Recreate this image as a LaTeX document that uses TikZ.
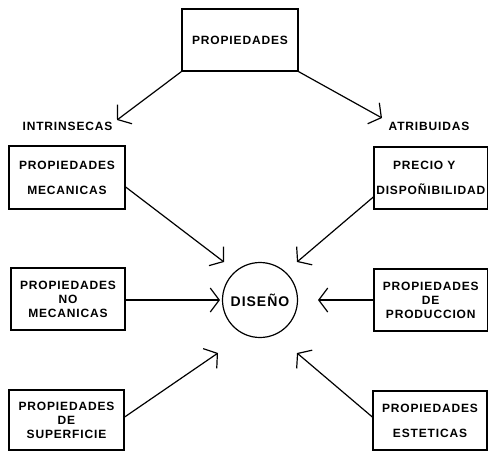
\documentclass[tikz,border=0pt]{standalone}
\usepackage{fontspec}
\setmainfont{Liberation Sans}[LetterSpace=7]
\usetikzlibrary{arrows.meta}
\tikzset{
  box/.style={draw, line width=1.3pt, rectangle, inner sep=0pt, align=center,
    font=\fontsize{12}{14}\selectfont\bfseries},
  lbl/.style={inner sep=0pt, font=\fontsize{12}{14}\selectfont\bfseries},
  conn/.style={line width=1.2pt, -{Straight Barb[length=9pt,width=24pt]}}
}
\begin{document}
\begin{tikzpicture}[x=1pt,y=-1pt]
\useasboundingbox (0,0) rectangle (488,451);
% boxes
\node[box, minimum width=116pt, minimum height=62pt] (top) at (240,40) {PROPIEDADES};
\node[box, minimum width=116pt, minimum height=63pt] (mec) at (67,177.5) {PROPIEDADES\\[11pt]MECANICAS};
\node[box, minimum width=113.5pt, minimum height=62pt] (pre) at (430.75,178) {PRECIO Y\hspace*{13pt}\\[11pt]DISPOÑIBILIDAD};
\node[box, minimum width=114pt, minimum height=62pt] (nom) at (68,299) {PROPIEDADES\\NO\\MECANICAS};
\node[box, minimum width=113.5pt, minimum height=62pt] (pro) at (430.75,300) {PROPIEDADES\\DE\\PRODUCCION};
\node[box, minimum width=115pt, minimum height=60pt] (sup) at (66.5,420) {PROPIEDADES\\DE\\SUPERFICIE};
\node[box, minimum width=114pt, minimum height=59pt] (est) at (430,420.5) {PROPIEDADES\\[11pt]ESTETICAS};
% centre
\node[draw, circle, line width=1.2pt, minimum size=75pt, inner sep=0pt,
  font=\fontsize{14}{16}\selectfont\bfseries] (dis) at (260,300) {DISEÑO};
% labels
\node[lbl] (intr) at (67.5,126) {INTRINSECAS};
\node[lbl] (atri) at (429,126) {ATRIBUIDAS};
% free ends
\coordinate (ti) at (117,120);
\coordinate (ta) at (382,118);
\coordinate (t1) at (224,262);
\coordinate (t2) at (297,262);
\coordinate (t3) at (220,300);
\coordinate (t4) at (318,300);
\coordinate (t5) at (218,353);
\coordinate (t6) at (297,353);
% connectors
\draw[conn] (top.south west) -- (ti);
\draw[conn] (top.south east) -- (ta);
\draw[conn] ([yshift=-9.5pt]mec.east) -- (t1);
\draw[conn] ([yshift=-19pt]pre.west) -- (t2);
\draw[conn] ([yshift=-1pt]nom.east) -- (t3);
\draw[conn] (pro.west) -- (t4);
\draw[conn] ([yshift=3pt]sup.east) -- (t5);
\draw[conn] ([yshift=3.5pt]est.west) -- (t6);
\end{tikzpicture}
\end{document}
